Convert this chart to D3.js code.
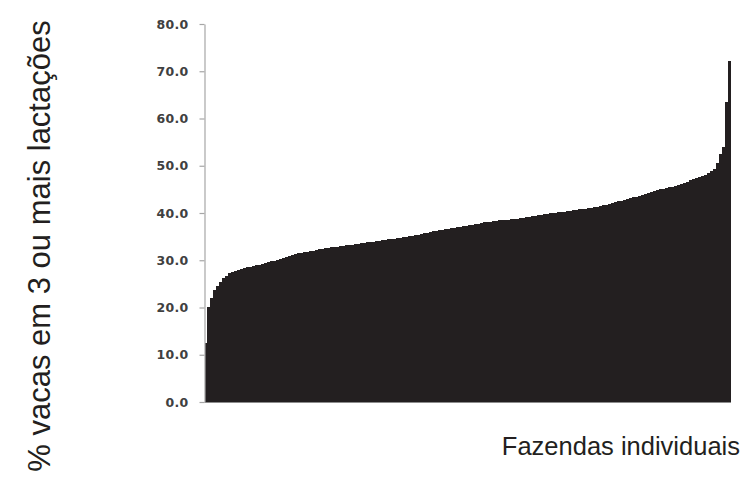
<!DOCTYPE html>
<html>
<head>
<meta charset="utf-8">
<script src="https://cdn.jsdelivr.net/npm/d3@7"></script>
<style>
  html, body { margin: 0; padding: 0; background: #ffffff; }
  svg { display: block; }
</style>
</head>
<body>
<div id="chart"></div>
<script>
// Percentage of cows in 3rd or later lactation, one bar per farm, sorted ascending
const farmValues = [
  12.4, 20.2, 22.1, 23.8, 24.6, 25.3, 26.2, 26.7, 27.2, 27.5,
  27.7, 27.9, 28.1, 28.3, 28.5, 28.6, 28.8, 29.0, 29.1, 29.3,
  29.4, 29.6, 29.8, 29.9, 30.1, 30.3, 30.5, 30.7, 30.9, 31.1,
  31.3, 31.5, 31.6, 31.7, 31.8, 31.9, 32.0, 32.2, 32.3, 32.4,
  32.5, 32.6, 32.7, 32.8, 32.9, 33.0, 33.1, 33.2, 33.3, 33.3,
  33.4, 33.5, 33.6, 33.7, 33.8, 33.8, 33.9, 34.0, 34.1, 34.2,
  34.3, 34.4, 34.5, 34.6, 34.7, 34.8, 34.9, 35.0, 35.1, 35.2,
  35.3, 35.4, 35.6, 35.7, 35.8, 35.9, 36.1, 36.2, 36.3, 36.4,
  36.6, 36.7, 36.8, 36.9, 37.0, 37.1, 37.2, 37.3, 37.4, 37.5,
  37.6, 37.7, 37.8, 38.0, 38.1, 38.2, 38.3, 38.4, 38.5, 38.5,
  38.6, 38.6, 38.7, 38.8, 38.8, 38.9, 39.0, 39.1, 39.2, 39.3,
  39.4, 39.5, 39.6, 39.7, 39.8, 39.9, 40.0, 40.1, 40.2, 40.3,
  40.3, 40.4, 40.5, 40.6, 40.7, 40.8, 40.8, 40.9, 41.0, 41.1,
  41.2, 41.3, 41.4, 41.6, 41.7, 41.9, 42.1, 42.3, 42.5, 42.6,
  42.8, 42.9, 43.1, 43.3, 43.4, 43.6, 43.8, 44.0, 44.2, 44.4,
  44.6, 44.8, 45.0, 45.1, 45.3, 45.4, 45.6, 45.8, 46.0, 46.2,
  46.4, 46.6, 46.9, 47.2, 47.4, 47.6, 47.8, 48.1, 48.4, 48.8,
  49.4, 50.5, 52.5, 54.0, 63.4, 72.2
];
const farms = farmValues.map((v, i) => "F" + (i + 1));
const yTicks = [0, 10, 20, 30, 40, 50, 60, 70, 80];
const yTitle = "% vacas em 3 ou mais lactações";
const xTitle = "Fazendas individuais";

(function () {
  const W = 744, H = 486;
  const mLeft = 204.5, mRight = 731, mTop = 24, mBottom = 402;

  const svg = d3.select("#chart").append("svg")
    .attr("width", W).attr("height", H);

  const x = d3.scaleBand().domain(farms).range([mLeft, mRight]).padding(0);
  const y = d3.scaleLinear().domain([0, 80]).range([mBottom, mTop]);

  // bars
  svg.append("g")
    .attr("shape-rendering", "crispEdges")
    .selectAll("rect")
    .data(farmValues)
    .join("rect")
    .attr("x", (d, i) => x(farms[i]))
    .attr("y", d => y(d))
    .attr("width", (d, i) => i === farmValues.length - 1 ? x.bandwidth() : x.bandwidth() + 1)
    .attr("height", d => y(0) - y(d))
    .attr("fill", "#231f20");

  // x baseline
  svg.append("line")
    .attr("x1", mLeft).attr("x2", mRight)
    .attr("y1", y(0) + 0.5).attr("y2", y(0) + 0.5)
    .attr("stroke", "#8c8c8c").attr("stroke-width", 1);

  // y axis
  const yAxis = d3.axisLeft(y)
    .tickValues(yTicks)
    .tickFormat(d3.format(".1f"))
    .tickSize(5)
    .tickSizeOuter(0)
    .tickPadding(11);

  const gy = svg.append("g")
    .attr("transform", `translate(${mLeft},0)`)
    .call(yAxis);
  gy.select(".domain").attr("stroke", "#a6a6a6").attr("stroke-width", 1.2);
  gy.selectAll(".tick line").attr("stroke", "#a6a6a6").attr("stroke-width", 1.2);
  gy.selectAll(".tick text")
    .attr("fill", "#404040")
    .style("font-family", "'DejaVu Sans', Verdana, sans-serif")
    .style("font-weight", "bold")
    .style("font-size", "12.5px")
    .style("letter-spacing", "0.3px");

  // y title
  svg.append("text")
    .attr("transform", `translate(50,246) rotate(-90)`)
    .attr("text-anchor", "middle")
    .attr("fill", "#231f20")
    .style("font-family", "'Liberation Sans', Arial, sans-serif")
    .style("font-size", "31px")
    .text(yTitle);

  // x title
  svg.append("text")
    .attr("x", 740).attr("y", 455)
    .attr("text-anchor", "end")
    .attr("fill", "#231f20")
    .style("font-family", "'Liberation Sans', Arial, sans-serif")
    .style("font-size", "25.5px")
    .text(xTitle);
})();
</script>
</body>
</html>
